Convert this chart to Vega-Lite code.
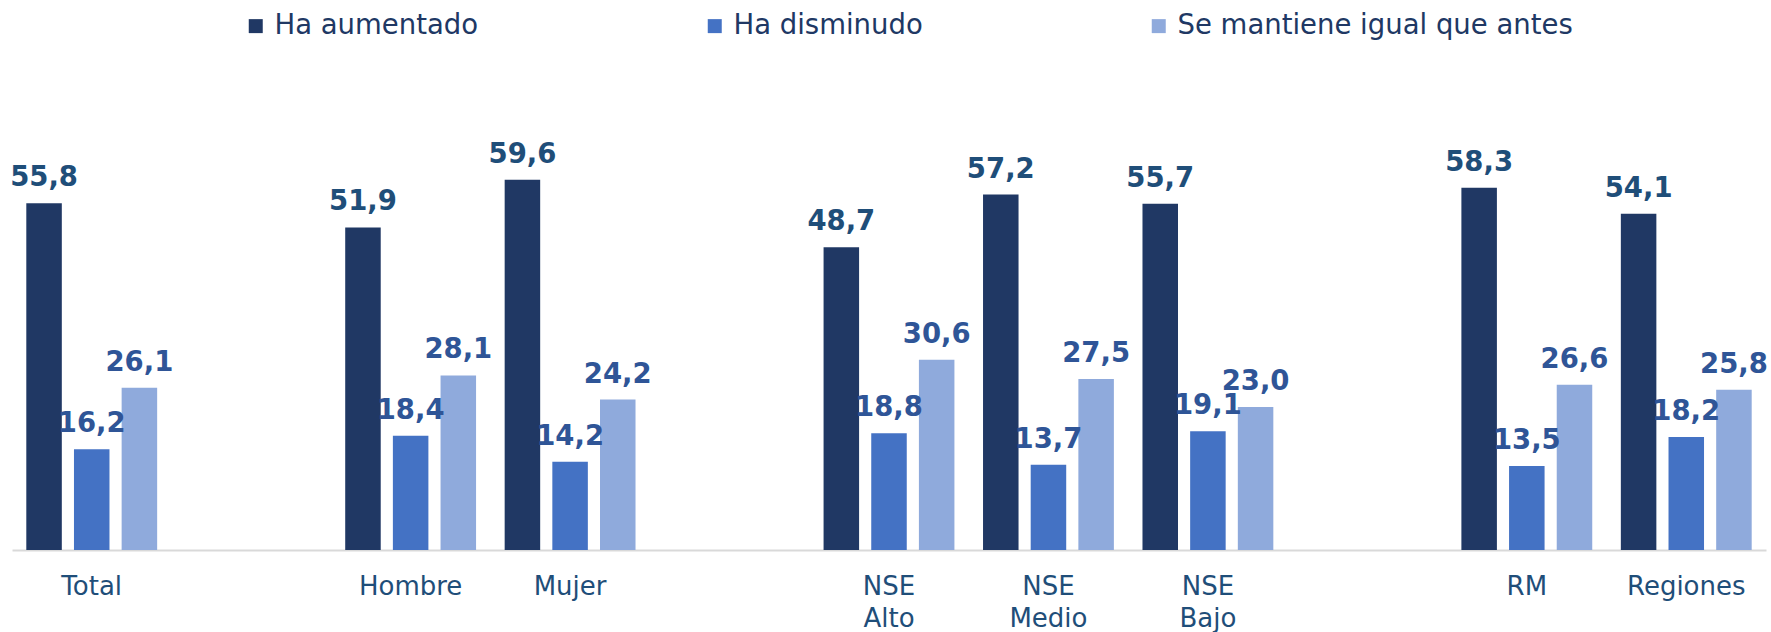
{
  "$schema": "https://vega.github.io/schema/vega-lite/v6.json",
  "autosize": {"type": "none"},
  "width": 1754,
  "height": 435,
  "padding": {"left": 12, "top": 115, "right": 5, "bottom": 82},
  "background": "white",
  "config": {
    "view": {"stroke": null},
    "font": "DejaVu Sans",
    "locale": {"number": {"decimal": ",", "thousands": ".", "grouping": [3], "currency": ["$", ""]}}
  },
  "data": {
    "values": [
      {"grupo": "Total", "serie": "Ha aumentado", "valor": 55.8},
      {"grupo": "Total", "serie": "Ha disminudo", "valor": 16.2},
      {"grupo": "Total", "serie": "Se mantiene igual que antes", "valor": 26.1},
      {"grupo": "Hombre", "serie": "Ha aumentado", "valor": 51.9},
      {"grupo": "Hombre", "serie": "Ha disminudo", "valor": 18.4},
      {"grupo": "Hombre", "serie": "Se mantiene igual que antes", "valor": 28.1},
      {"grupo": "Mujer", "serie": "Ha aumentado", "valor": 59.6},
      {"grupo": "Mujer", "serie": "Ha disminudo", "valor": 14.2},
      {"grupo": "Mujer", "serie": "Se mantiene igual que antes", "valor": 24.2},
      {"grupo": "NSE Alto", "serie": "Ha aumentado", "valor": 48.7},
      {"grupo": "NSE Alto", "serie": "Ha disminudo", "valor": 18.8},
      {"grupo": "NSE Alto", "serie": "Se mantiene igual que antes", "valor": 30.6},
      {"grupo": "NSE Medio", "serie": "Ha aumentado", "valor": 57.2},
      {"grupo": "NSE Medio", "serie": "Ha disminudo", "valor": 13.7},
      {"grupo": "NSE Medio", "serie": "Se mantiene igual que antes", "valor": 27.5},
      {"grupo": "NSE Bajo", "serie": "Ha aumentado", "valor": 55.7},
      {"grupo": "NSE Bajo", "serie": "Ha disminudo", "valor": 19.1},
      {"grupo": "NSE Bajo", "serie": "Se mantiene igual que antes", "valor": 23.0},
      {"grupo": "RM", "serie": "Ha aumentado", "valor": 58.3},
      {"grupo": "RM", "serie": "Ha disminudo", "valor": 13.5},
      {"grupo": "RM", "serie": "Se mantiene igual que antes", "valor": 26.6},
      {"grupo": "Regiones", "serie": "Ha aumentado", "valor": 54.1},
      {"grupo": "Regiones", "serie": "Ha disminudo", "valor": 18.2},
      {"grupo": "Regiones", "serie": "Se mantiene igual que antes", "valor": 25.8}
    ]
  },
  "encoding": {
    "x": {
      "field": "grupo",
      "type": "nominal",
      "scale": {
        "domain": ["Total", "_1", "Hombre", "Mujer", "_2", "NSE Alto", "NSE Medio", "NSE Bajo", "_3", "RM", "Regiones"],
        "paddingInner": 0,
        "paddingOuter": 0
      },
      "axis": {
        "title": null,
        "labelAngle": 0,
        "labelExpr": "indexof(datum.label, '_') == 0 ? '' : split(datum.label, ' ')",
        "labelFontSize": 26,
        "labelColor": "#1F4E79",
        "labelLineHeight": 32,
        "labelPadding": 23,
        "ticks": false,
        "domainColor": "#D9D9D9",
        "domainWidth": 2,
        "labelFont": "DejaVu Sans"
      }
    },
    "xOffset": {
      "field": "serie",
      "type": "nominal",
      "scale": {
        "domain": ["Ha aumentado", "Ha disminudo", "Se mantiene igual que antes"],
        "paddingInner": 0.255,
        "paddingOuter": 0.3
      }
    },
    "y": {
      "field": "valor",
      "type": "quantitative",
      "scale": {"domain": [0, 70]},
      "axis": null
    }
  },
  "layer": [
    {
      "mark": {"type": "bar"},
      "encoding": {
        "color": {
          "field": "serie",
          "type": "nominal",
          "scale": {
            "domain": ["Ha aumentado", "Ha disminudo", "Se mantiene igual que antes"],
            "range": ["#203864", "#4472C4", "#8FAADC"]
          },
          "legend": {
            "title": null,
            "orient": "none",
            "direction": "horizontal",
            "legendX": 230,
            "legendY": -103,
            "symbolType": "square",
            "symbolSize": 196,
            "symbolStrokeWidth": 0,
            "labelFontSize": 27.5,
            "labelColor": "#203864",
            "labelFont": "DejaVu Sans",
            "labelOffset": 5,
            "columnPadding": 222,
            "labelLimit": 600
          }
        }
      }
    },
    {
      "mark": {"type": "text", "baseline": "alphabetic", "dy": -17, "fontWeight": "bold", "fontSize": 27.5},
      "encoding": {
        "text": {"field": "valor", "type": "quantitative", "format": ".1f"},
        "color": {
          "condition": {"test": "datum.serie === 'Ha aumentado'", "value": "#1F4E79"},
          "value": "#2F5597"
        }
      }
    }
  ]
}
